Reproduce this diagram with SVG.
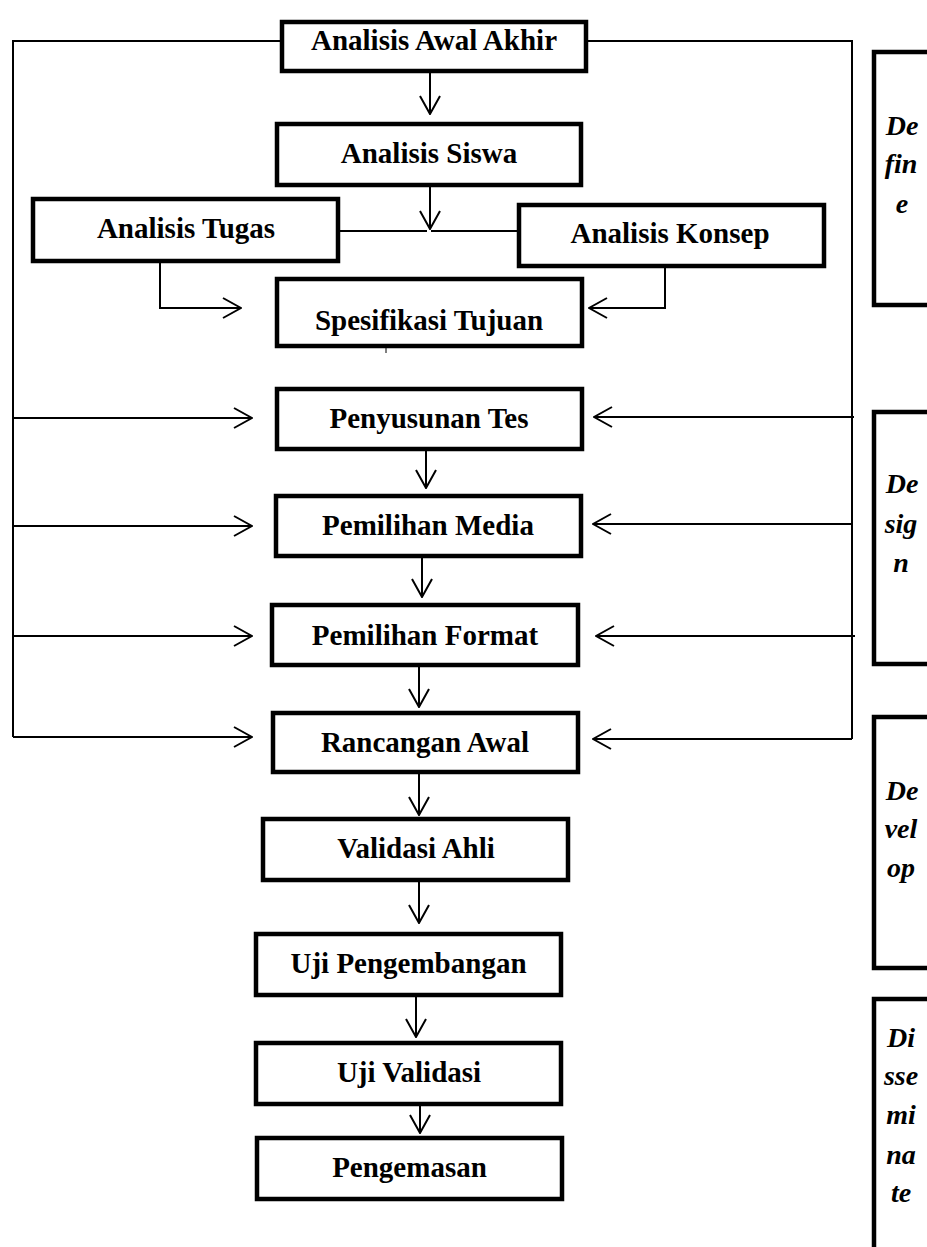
<svg xmlns="http://www.w3.org/2000/svg" width="927" height="1247" viewBox="0 0 927 1247">
<style>
.box{fill:#fff;stroke:#000;stroke-width:4.5}
.lbl{font-family:"Liberation Serif","Times New Roman",serif;font-weight:bold;font-size:29px;text-anchor:middle;fill:#000}
.ph{font-family:"Liberation Serif","Times New Roman",serif;font-weight:bold;font-style:italic;font-size:28px;text-anchor:middle;fill:#000}
.ln{fill:none;stroke:#000;stroke-width:2}
.ar{fill:none;stroke:#000;stroke-width:2;marker-end:url(#ah)}
</style>
<defs>
<marker id="ah" viewBox="0 0 20 22" refX="19" refY="11" markerWidth="20" markerHeight="22" markerUnits="userSpaceOnUse" orient="auto">
<path d="M1,1 L19,11 L1,21" fill="none" stroke="#000" stroke-width="2"/>
</marker>
</defs>
<rect width="927" height="1247" fill="#fff"/>
<g id="connectors">
<polyline class="ln" points="280,41 13,41 13,737"/>
<polyline class="ln" points="588,41 852,41 852,739"/>
<line class="ar" x1="13" y1="418" x2="252" y2="418"/>
<line class="ar" x1="13" y1="526" x2="252" y2="526"/>
<line class="ar" x1="13" y1="636" x2="252" y2="636"/>
<line class="ar" x1="13" y1="737" x2="252" y2="737"/>
<line class="ar" x1="854" y1="417" x2="594" y2="417"/>
<line class="ar" x1="852" y1="524" x2="593" y2="524"/>
<line class="ar" x1="855" y1="636" x2="596" y2="636"/>
<line class="ar" x1="852" y1="739" x2="593" y2="739"/>
<line class="ar" x1="430" y1="73" x2="430" y2="114"/>
<line class="ar" x1="430" y1="187" x2="430" y2="229"/>
<line class="ln" x1="340" y1="231" x2="427" y2="231"/>
<line class="ln" x1="431" y1="231" x2="517" y2="231"/>
<polyline class="ar" points="160,263 160,308 241,308"/>
<polyline class="ar" points="665,268 665,308 589,308"/>
<line x1="386" y1="348" x2="386" y2="353" stroke="#000" stroke-width="1"/>
<line class="ar" x1="426" y1="446" x2="426" y2="488"/>
<line class="ar" x1="422" y1="558" x2="422" y2="597"/>
<line class="ar" x1="419" y1="667" x2="419" y2="707"/>
<line class="ar" x1="419" y1="774" x2="419" y2="815"/>
<line class="ar" x1="419" y1="882" x2="419" y2="923"/>
<line class="ar" x1="416" y1="997" x2="416" y2="1037"/>
<line class="ar" x1="420" y1="1106" x2="420" y2="1133"/>
</g>
<g id="n-awal-akhir"><rect class="box" x="282" y="22" width="304" height="49"/><text class="lbl" x="434" y="50">Analisis Awal Akhir</text></g>
<g id="n-siswa"><rect class="box" x="277" y="124" width="304" height="61"/><text class="lbl" x="429" y="163">Analisis Siswa</text></g>
<g id="n-tugas"><rect class="box" x="33" y="199" width="305" height="62"/><text class="lbl" x="186" y="238">Analisis Tugas</text></g>
<g id="n-konsep"><rect class="box" x="519" y="205" width="305" height="61"/><text class="lbl" x="670" y="243">Analisis Konsep</text></g>
<g id="n-spesifikasi"><rect class="box" x="277" y="279" width="305" height="67"/><text class="lbl" x="429" y="330">Spesifikasi Tujuan</text></g>
<g id="n-penyusunan"><rect class="box" x="277" y="389" width="305" height="60"/><text class="lbl" x="429" y="428">Penyusunan Tes</text></g>
<g id="n-media"><rect class="box" x="276" y="496" width="305" height="60"/><text class="lbl" x="428" y="535">Pemilihan Media</text></g>
<g id="n-format"><rect class="box" x="272" y="605" width="306" height="60"/><text class="lbl" x="425" y="645">Pemilihan Format</text></g>
<g id="n-rancangan"><rect class="box" x="273" y="713" width="305" height="59"/><text class="lbl" x="425" y="752">Rancangan Awal</text></g>
<g id="n-validasi-ahli"><rect class="box" x="263" y="819" width="305" height="61"/><text class="lbl" x="416" y="858">Validasi Ahli</text></g>
<g id="n-uji-pengembangan"><rect class="box" x="256" y="934" width="305" height="61"/><text class="lbl" x="408.5" y="973">Uji Pengembangan</text></g>
<g id="n-uji-validasi"><rect class="box" x="256" y="1043" width="305" height="61"/><text class="lbl" x="409" y="1082">Uji Validasi</text></g>
<g id="n-pengemasan"><rect class="box" x="257" y="1138" width="305" height="61"/><text class="lbl" x="409.5" y="1177">Pengemasan</text></g>
<g id="p-define"><rect class="box" x="874" y="52" width="100" height="253"/><text class="ph" x="902" y="135">De</text><text class="ph" x="901" y="173">fin</text><text class="ph" x="902" y="213">e</text></g>
<g id="p-design"><rect class="box" x="874" y="412" width="100" height="252"/><text class="ph" x="902" y="493">De</text><text class="ph" x="901" y="533">sig</text><text class="ph" x="901" y="572">n</text></g>
<g id="p-develop"><rect class="box" x="874" y="717" width="100" height="251"/><text class="ph" x="902" y="800">De</text><text class="ph" x="901" y="838">vel</text><text class="ph" x="901" y="877">op</text></g>
<g id="p-disseminate"><rect class="box" x="874" y="999" width="100" height="300"/><text class="ph" x="901" y="1047">Di</text><text class="ph" x="901" y="1085">sse</text><text class="ph" x="901" y="1124">mi</text><text class="ph" x="901" y="1164">na</text><text class="ph" x="901" y="1202">te</text></g>
</svg>
